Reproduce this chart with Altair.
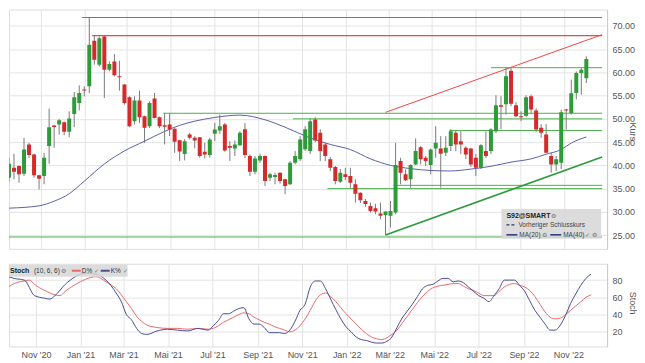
import json
import altair as alt
import pandas as pd

# ---------------- data ----------------
FIRST_WEEK = "2020-09-18"
X_START = "2020-09-25"
X_END = "2022-12-24"

opens = [37.34, 39.49, 39.85, 38.20, 44.50, 42.36, 37.86, 37.71, 44.14, 48.57,
         48.79, 49.28, 47.20, 51.06, 53.42, 56.29, 57.00, 66.79, 61.65, 67.71,
         60.57, 62.35, 59.14, 57.36, 54.64, 49.49, 53.93, 50.57, 48.42, 54.36,
         50.35, 48.64, 48.79, 47.89, 45.42, 42.42, 46.64, 45.92, 46.06, 42.92,
         42.21, 46.77, 47.50, 48.79, 44.14, 43.64, 44.35, 47.78, 42.00, 38.63,
         41.07, 42.00, 37.34, 37.49, 38.42, 37.00, 35.93, 40.56, 41.29, 43.49,
         43.07, 49.86, 46.99, 44.50, 41.29, 39.64, 36.49, 38.07, 37.71, 35.93,
         34.13, 32.35, 31.28, 30.79, 29.63, 29.35, 29.14, 29.84, 40.92, 38.07,
         37.00, 40.21, 43.92, 41.63, 40.07, 43.64, 43.64, 42.70, 44.14, 46.99,
         45.21, 43.77, 43.64, 41.63, 39.49, 43.07, 43.07, 47.35, 52.92, 53.14,
         60.36, 52.92, 50.57, 50.67, 54.85, 51.79, 48.06, 46.64, 42.00, 40.21,
         40.56, 52.00, 51.27, 55.56, 59.85, 58.71]
highs = [41.63, 42.49, 40.00, 45.92, 44.84, 42.50, 38.00, 42.70, 52.22, 48.70,
         49.99, 49.40, 51.64, 55.77, 57.21, 57.00, 71.80, 67.92, 67.71, 68.00,
         62.35, 63.92, 62.50, 57.50, 54.85, 54.85, 56.07, 50.70, 53.78, 55.56,
         50.50, 51.27, 51.27, 48.00, 45.50, 45.64, 46.99, 46.28, 46.10, 44.84,
         45.92, 49.13, 50.93, 49.13, 45.21, 45.36, 47.35, 49.07, 42.36, 42.00,
         42.49, 42.10, 38.42, 38.42, 38.50, 37.10, 40.92, 43.07, 46.28, 48.42,
         50.14, 50.35, 47.78, 44.84, 41.78, 39.85, 39.21, 39.49, 39.49, 37.00,
         34.20, 32.78, 31.99, 31.71, 31.99, 30.10, 32.35, 44.84, 41.63, 39.14,
         40.21, 45.79, 44.14, 42.00, 43.64, 48.42, 46.28, 46.28, 47.78, 47.57,
         47.35, 44.14, 43.77, 42.42, 44.57, 47.35, 48.00, 55.07, 54.85, 60.96,
         61.07, 53.57, 51.64, 55.07, 55.22, 52.28, 48.85, 48.85, 42.64, 42.00,
         52.00, 52.10, 58.43, 60.21, 60.92, 63.42]
lows = [36.49, 37.00, 36.27, 37.71, 41.63, 37.34, 34.86, 35.93, 40.34, 43.77,
        46.64, 46.49, 46.06, 48.21, 51.79, 54.85, 55.56, 61.65, 61.28, 54.49,
        60.21, 59.14, 56.07, 53.07, 48.20, 48.79, 49.13, 44.84, 48.06, 50.10,
        48.00, 44.50, 46.28, 42.70, 40.92, 41.07, 45.57, 43.64, 41.63, 41.50,
        41.63, 45.21, 46.77, 42.92, 40.92, 42.00, 44.14, 41.57, 37.71, 38.07,
        40.56, 35.57, 36.64, 35.93, 36.06, 33.79, 35.78, 40.21, 40.92, 43.07,
        42.42, 45.00, 40.92, 40.92, 38.78, 35.93, 36.21, 36.79, 35.07, 31.99,
        31.92, 31.06, 29.84, 29.50, 28.43, 25.00, 26.63, 29.50, 35.93, 36.64,
        35.20, 40.07, 40.21, 39.85, 38.07, 41.63, 35.20, 42.00, 43.07, 43.07,
        42.42, 41.35, 39.64, 37.71, 39.21, 41.57, 42.42, 46.92, 47.78, 50.93,
        52.71, 50.35, 49.49, 50.35, 51.00, 47.14, 45.92, 42.64, 38.42, 38.78,
        39.21, 47.72, 50.93, 54.21, 55.22, 57.70]
closes = [40.34, 38.63, 38.07, 43.43, 42.21, 37.86, 37.13, 41.63, 48.21, 48.27,
          49.71, 47.20, 50.07, 54.64, 55.56, 56.07, 65.93, 62.72, 67.35, 60.57,
          61.77, 59.35, 58.92, 53.42, 48.42, 53.93, 50.35, 48.06, 53.42, 50.20,
          48.42, 48.32, 47.72, 45.06, 42.96, 45.21, 45.92, 45.32, 42.00, 42.36,
          45.57, 47.72, 48.42, 43.22, 43.77, 44.50, 46.99, 42.21, 38.63, 41.50,
          42.00, 36.64, 38.07, 37.92, 36.64, 35.57, 40.56, 42.00, 45.57, 47.78,
          49.49, 45.36, 43.07, 42.00, 39.49, 36.64, 38.42, 37.49, 36.27, 33.92,
          32.50, 31.71, 30.21, 30.06, 29.14, 30.06, 30.21, 40.07, 38.42, 36.79,
          40.07, 43.07, 41.29, 40.92, 43.43, 44.84, 42.49, 43.77, 47.35, 44.50,
          44.50, 42.36, 40.21, 39.49, 44.35, 42.00, 47.72, 52.92, 52.60, 59.14,
          53.24, 50.57, 50.35, 54.64, 52.00, 47.72, 46.99, 42.70, 40.21, 41.29,
          51.42, 51.79, 55.50, 59.85, 60.57, 62.89]

# moving average (read at sample weeks)
ma_idx = [0, 6, 9, 12, 15, 19, 23, 27, 31, 34, 37, 41, 46, 51, 55, 60, 64, 68,
          72, 76, 80, 84, 88, 92, 96, 100, 104, 107, 110, 112, 115]
ma_val = [30.8, 31.3, 32.3, 33.9, 36.6, 40.3, 43.1, 45.2, 47.3, 48.6, 49.5, 50.3,
          50.8, 49.8, 48.2, 45.9, 44.5, 43.4, 41.4, 40.0, 39.3, 38.9, 38.8, 39.2,
          39.8, 40.7, 41.4, 42.4, 43.4, 44.8, 46.1]

# stochastic K% and D%
k_idx = [0, 2, 4, 6, 8, 9, 10, 12, 14, 16, 18, 20, 22, 23, 24, 25, 26, 27, 28, 30,
         32, 34, 36, 38, 39, 40, 41, 42, 43, 44, 45, 46, 47, 48, 49, 50, 51, 52, 54,
         55, 56, 57, 58, 59, 60, 61, 62, 63, 64, 65, 66, 67, 68, 69, 70, 71, 72, 73,
         74, 75, 76, 77, 78, 79, 80, 81, 82, 83, 84, 85, 86, 87, 88, 89, 90, 91, 92,
         93, 94, 95, 96, 97, 98, 99, 100, 101, 102, 103, 104, 105, 106, 107, 108,
         109, 110, 111, 112, 113, 114, 115]
k_val = [86, 82, 80, 62, 59, 58, 62, 75, 84, 88, 87, 80, 65, 55, 40, 34, 24, 18, 17, 21,
         23, 22, 21, 24, 23, 22, 27, 33, 41, 41, 44, 47, 48, 35, 29, 29, 25, 19, 19,
         18, 22, 32, 45, 52, 72, 79, 79, 70, 58, 46, 35, 26, 20, 14, 11, 10, 8, 7,
         7, 9, 14, 25, 36, 44, 52, 61, 70, 74, 75, 79, 82, 82, 78, 79, 77, 72, 67,
         62, 59, 55, 62, 70, 80, 80, 80, 74, 67, 56, 45, 37, 29, 22, 22,
         28, 39, 53, 64, 74, 82, 87]
d_idx = [0, 2, 4, 5, 6, 8, 10, 11, 12, 14, 16, 17, 18, 19, 20, 22, 24, 25, 26, 27, 28,
         30, 32, 34, 36, 38, 40, 41, 42, 43, 44, 45, 46, 47, 48, 49, 50, 51, 52, 53,
         54, 55, 56, 57, 58, 59, 60, 61, 62, 63, 64, 65, 66, 67, 68, 69, 70, 71, 72,
         73, 74, 75, 76, 77, 78, 79, 80, 81, 82, 83, 84, 85, 86, 87, 88, 89, 90, 91,
         92, 93, 94, 95, 96, 97, 98, 99, 100, 101, 102, 103, 104, 105, 106, 107, 108,
         109, 110, 111, 112, 113, 114, 115]
d_val = [68, 76, 79, 80, 75, 68, 63, 62, 67, 75, 81, 83, 84, 82, 78, 70, 55, 47, 38, 32, 28,
         25, 24, 24, 23, 24, 23, 24, 27, 31, 34, 37, 40, 42, 41, 37, 34, 31, 29, 26,
         24, 22, 20, 22, 27, 35, 45, 56, 63, 65, 61, 55, 48, 41, 35, 29, 23, 18, 14,
         12, 11, 13, 17, 22, 30, 38, 46, 54, 61, 67, 71, 73, 74, 75, 76, 76, 73, 70,
         68, 65, 62, 62, 62, 67, 72, 75, 76, 74, 72, 68, 61, 52, 43, 37, 35,
         36, 40, 45, 50, 55, 60, 63]

# resistance lines (red) and support lines (green)
resist_values = [71.8, 67.9]
resist_starts = ["2020-12-29", "2021-01-12"]
support_values = [61.0, 51.2, 50.0, 47.5, 35.7, 35.0, 24.6]
support_starts = ["2022-07-22", "2021-04-21", "2021-10-19", "2022-05-25", "2022-03-08",
                  "2021-12-06", "2020-09-18"]

# trend channel (start and end points)
trend_up_dates = ["2022-02-25", X_END]
trend_up_values = [51.4, 68.1]
trend_low_dates = ["2022-02-25", X_END]
trend_low_values = [25.0, 41.8]

month_ticks = ["2020-11-01", "2021-01-01", "2021-03-01", "2021-05-01", "2021-07-01",
               "2021-09-01", "2021-11-01", "2022-01-01", "2022-03-01", "2022-05-01",
               "2022-07-01", "2022-09-01", "2022-11-01"]
month_labels = ["Nov '20", "Jan '21", "Mär '21", "Mai '21", "Jul '21", "Sep '21",
                "Nov '21", "Jan '22", "Mär '22", "Mai '22", "Jul '22", "Sep '22", "Nov '22"]
price_ticks = [25, 30, 35, 40, 45, 50, 55, 60, 65, 70]
stoch_ticks = [20, 40, 60, 80]

# ---------------- styling ----------------
GREEN = "#2f9a3a"
RED = "#d42a2a"
WICK = "#7a7a7a"
LINE_GREEN = "#4cae4c"
LINE_RED = "#ec4848"
TREND_GREEN = "#2a9a3a"
MA_COLOR = "#5c60a8"
K_COLOR = "#4a4e92"
D_COLOR = "#e86a6a"
GRID = "#e4e4e4"
LABEL = "#555555"
FONT = "Liberation Sans"


def week_date(i):
    return (pd.Timestamp(FIRST_WEEK) + pd.Timedelta(days=7 * i)).strftime("%Y-%m-%d")


def ms(d):
    return int(pd.Timestamp(d).value // 10**6)


def level_segments(values, starts):
    rows = []
    for n, (v, s) in enumerate(zip(values, starts)):
        rows.append({"id": n, "date": s, "value": v})
        rows.append({"id": n, "date": X_END, "value": v})
    return pd.DataFrame(rows)


candles = pd.DataFrame({
    "date": [week_date(i) for i in range(len(opens))],
    "open": opens, "high": highs, "low": lows, "close": closes,
})
candles["dir"] = ["up" if c >= o else "down" for o, c in zip(opens, closes)]

ma_df = pd.DataFrame({"date": [week_date(i) for i in ma_idx], "value": ma_val})
k_df = pd.DataFrame({"date": [week_date(i) for i in k_idx], "value": k_val})
d_df = pd.DataFrame({"date": [week_date(i) for i in d_idx], "value": d_val})
resist = level_segments(resist_values, resist_starts)
support = level_segments(support_values, support_starts)
trend_up = pd.DataFrame({"date": trend_up_dates, "value": trend_up_values})
trend_low = pd.DataFrame({"date": trend_low_dates, "value": trend_low_values})

label_map = json.dumps(dict(zip(month_ticks, month_labels)), ensure_ascii=False)
label_expr = label_map + "[utcFormat(datum.value, '%Y-%m-%d')]"
x_domain = [ms(X_START), ms(X_END)]
x_values = [ms(d) for d in month_ticks]

x_scale = alt.Scale(type="utc", domain=x_domain)
x_axis_main = alt.Axis(values=x_values, grid=True, gridColor=GRID, labels=False,
                       ticks=False, domain=False, title=None)
x_axis_stoch = alt.Axis(values=x_values, grid=True, gridColor=GRID, labelExpr=label_expr,
                        ticks=False, domain=False, title=None, labelPadding=4,
                        labelFontSize=9, labelColor=LABEL, labelFont=FONT,
                        labelFlush=False, labelOverlap=False)

price_scale = alt.Scale(domain=[22.06, 73.5], nice=False, zero=False)
price_axis = alt.Axis(orient="right", values=price_ticks, format=".2f", grid=True,
                      gridColor=GRID, ticks=False, labelPadding=5, labelFontSize=9,
                      labelColor=LABEL, labelFont=FONT, domainColor="#c8c8c8",
                      labelOverlap=False, labelBound=False, tickCount=len(price_ticks),
                      title="Kurs", titleFontSize=9, titleFontWeight="normal",
                      titleColor=LABEL, titleFont=FONT, titleAngle=90, titleX=25,
                      titleY=122, titleAlign="center", titleBaseline="middle")
stoch_scale = alt.Scale(domain=[3, 99], nice=False, zero=False)
stoch_axis = alt.Axis(orient="right", values=stoch_ticks, grid=True, gridColor=GRID,
                      ticks=False, labelPadding=5, labelFontSize=9, labelColor=LABEL,
                      labelFont=FONT, domainColor="#c8c8c8", labelOverlap=False,
                      labelBound=False, tickCount=len(stoch_ticks), title="Stoch",
                      titleFontSize=9, titleFontWeight="normal", titleColor=LABEL,
                      titleFont=FONT, titleAngle=90, titleX=25, titleY=39,
                      titleAlign="center", titleBaseline="middle")


def xm(field="date:T"):
    return alt.X(field, scale=x_scale, axis=x_axis_main)


def xs(field="date:T"):
    return alt.X(field, scale=x_scale, axis=x_axis_stoch)


def yp(field):
    return alt.Y(field, scale=price_scale, axis=price_axis)


def ys(field):
    return alt.Y(field, scale=stoch_scale, axis=stoch_axis)


base = alt.Chart(candles)
wicks = base.mark_rule(color=WICK, strokeWidth=1, clip=True).encode(
    x=xm(), y=yp("low:Q"), y2="high:Q")
bodies = base.mark_bar(size=4, clip=True).encode(
    x=xm(), y=yp("open:Q"), y2="close:Q",
    color=alt.Color("dir:N", scale=alt.Scale(domain=["up", "down"], range=[GREEN, RED]),
                    legend=None))

resist_lines = alt.Chart(resist).mark_line(stroke=LINE_RED, strokeWidth=1.1, clip=True).encode(
    x=xm(), y=yp("value:Q"), detail="id:N")
support_lines = alt.Chart(support).mark_line(stroke=LINE_GREEN, strokeWidth=1, clip=True).encode(
    x=xm(), y=yp("value:Q"), detail="id:N")
trend_up_line = alt.Chart(trend_up).mark_line(stroke=LINE_RED, strokeWidth=1, clip=True).encode(
    x=xm(), y=yp("value:Q"))
trend_low_line = alt.Chart(trend_low).mark_line(stroke=TREND_GREEN, strokeWidth=1.6,
                                                clip=True).encode(x=xm(), y=yp("value:Q"))
ma_line = alt.Chart(ma_df).mark_line(stroke=MA_COLOR, strokeWidth=1, interpolate="monotone",
                                     clip=True).encode(x=xm(), y=yp("value:Q"))

one = pd.DataFrame({"a": [0]})


def txt(s, x, y, size=7, bold=False, color="#333333"):
    return alt.Chart(one).mark_text(text=s, align="left", baseline="middle", fontSize=size,
                                    font=FONT, fontWeight="bold" if bold else "normal",
                                    color=color).encode(x=alt.value(x), y=alt.value(y))


def seg(x1, x2, y, color, dash=None, width=1.5):
    kw = {"strokeDash": dash} if dash else {}
    return alt.Chart(one).mark_rule(color=color, strokeWidth=width, **kw).encode(
        x=alt.value(x1), x2=alt.value(x2), y=alt.value(y))


legend_box = alt.Chart(one).mark_rect(color="#d6d6d6", opacity=0.85).encode(
    x=alt.value(494), x2=alt.value(594), y=alt.value(200), y2=alt.value(230))
legend_main = [
    legend_box,
    txt("S92@SMART", 499, 207, bold=True, color="#222222"),
    txt("⚙", 544, 207, size=6, color="#777777"),
    seg(499, 508, 216, "#333366", dash=[3, 2], width=1.2),
    txt("Vorheriger Schlusskurs", 511, 216, size=6.5, color="#444444"),
    seg(499, 510, 226, "#2a2f80"),
    txt("MA(20)", 512, 226, size=6.5, color="#444444"),
    txt("⚙", 535, 226, size=6, color="#777777"),
    seg(543, 554, 226, "#2a2f80"),
    txt("MA(40)", 556, 226, size=6.5, color="#444444"),
    txt("✓ ⚙", 578, 226, size=6, color="#777777"),
]

main = alt.layer(wicks, support_lines, trend_up_line, trend_low_line, ma_line,
                 bodies, resist_lines, *legend_main).properties(width=600, height=240)

k_line = alt.Chart(k_df).mark_line(stroke=K_COLOR, strokeWidth=1, interpolate="monotone",
                                   clip=True).encode(x=xs(), y=ys("value:Q"))
d_line = alt.Chart(d_df).mark_line(stroke=D_COLOR, strokeWidth=1, interpolate="monotone",
                                   clip=True).encode(x=xs(), y=ys("value:Q"))

stoch_box = alt.Chart(one).mark_rect(color="#d6d6d6", opacity=0.85).encode(
    x=alt.value(0), x2=alt.value(119), y=alt.value(1), y2=alt.value(13))
legend_stoch = [
    stoch_box,
    txt("Stoch", 1, 7, size=7, bold=True, color="#222222"),
    txt("(10, 6, 6)", 25, 7, size=6.5, color="#333333"),
    txt("⚙", 52, 7, size=6, color="#777777"),
    seg(63, 72, 7, D_COLOR, width=2),
    txt("D%", 73, 7, size=6.5, color="#333333"),
    txt("✓", 85, 7, size=6, color="#777777"),
    seg(92, 101, 7, K_COLOR, width=2),
    txt("K%", 102, 7, size=6.5, color="#333333"),
    txt("✓", 114, 7, size=6, color="#777777"),
]

stoch = alt.layer(d_line, k_line, *legend_stoch).properties(width=600, height=83)

chart = (alt.vconcat(main, stoch, spacing=13)
         .properties(padding=0, background="white")
         .configure_view(stroke="#d0d0d0")
         .configure_axis(labelOverlap=False)
         .configure(font=FONT))

chart.save("out.html", embed_options={"renderer": "svg", "actions": False})
